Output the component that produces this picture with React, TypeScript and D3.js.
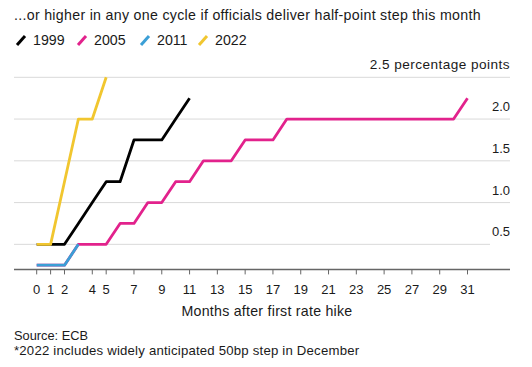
import React from 'react';
import * as d3 from 'd3';

const months = d3.range(0, 32);
const y1999 = [0.5, 0.5, 0.5, 0.75, 1.0, 1.25, 1.25, 1.75, 1.75, 1.75, 2.0, 2.25];
const y2005 = [0.25, 0.25, 0.25, 0.5, 0.5, 0.5, 0.75, 0.75, 1.0, 1.0, 1.25, 1.25, 1.5, 1.5, 1.5, 1.75,
  1.75, 1.75, 2.0, 2.0, 2.0, 2.0, 2.0, 2.0, 2.0, 2.0, 2.0, 2.0, 2.0, 2.0, 2.0, 2.25];
const y2011 = [0.25, 0.25, 0.25, 0.5];
const y2022 = [0.5, 0.5, 1.25, 2.0, 2.0, 2.5];

const series = [
  { name: '2005', values: y2005, color: '#e2228c' },
  { name: '1999', values: y1999, color: '#000000' },
  { name: '2011', values: y2011, color: '#3b9fd6' },
  { name: '2022', values: y2022, color: '#f1c62f' },
];
const legendOrder = ['1999', '2005', '2011', '2022'];
const xTicks = [0, 1, 2, 4, 5, 7, 9, 11, 13, 15, 17, 19, 21, 23, 25, 27, 29, 31];
const yTicks = [0.5, 1.0, 1.5, 2.0, 2.5];

const title = '...or higher in any one cycle if officials deliver half-point step this month';
const xTitle = 'Months after first rate hike';
const source = 'Source: ECB';
const note = '*2022 includes widely anticipated 50bp step in December';

export default function App() {
  const width = 532;
  const height = 367;
  const left = 14;
  const right = 510;
  const x = d3.scaleLinear().domain([0, 31]).range([36.7, 467.5]);
  const y = d3.scaleLinear().domain([0.2, 2.5]).range([269.4, 77.3]);
  const line = d3.line<number>().x((_, i) => x(months[i])).y(d => y(d));
  const font = '"Liberation Sans", Arial, sans-serif';
  const legendX = [16, 77, 140, 198];

  return (
    <svg width={width} height={height} style={{ position: 'absolute', left: 0, top: 0 }} fontFamily={font}>
      <rect width={width} height={height} fill="#fff" />
      <text x={left} y={20} fontSize={14.2} letterSpacing={0.3} fill="#1a1a1a">{title}</text>
      {legendOrder.map((n, i) => {
        const s = series.find(d => d.name === n)!;
        return (
          <g key={n} transform={`translate(${legendX[i]},0)`}>
            <line x1={1} y1={45} x2={9} y2={36} stroke={s.color} strokeWidth={3} />
            <text x={17} y={45} fontSize={14.2} fill="#1a1a1a">{n}</text>
          </g>
        );
      })}
      {yTicks.map(t => (
        <g key={t}>
          <line x1={left} x2={t === 0.5 ? 490 : right} y1={y(t)} y2={y(t)} stroke="#d9d9d9" strokeWidth={1} />
          <text x={right} y={y(t) - 8} textAnchor="end" fontSize={t === 2.5 ? 13.6 : 13}
            letterSpacing={t === 2.5 ? 0.45 : 0} fill="#1a1a1a">
            {t === 2.5 ? '2.5 percentage points' : t.toFixed(1)}
          </text>
        </g>
      ))}
      <line x1={left} x2={right} y1={y(0.2)} y2={y(0.2)} stroke="#666" strokeWidth={1.5} />
      {xTicks.map(t => (
        <g key={t}>
          <line x1={x(t)} x2={x(t)} y1={y(0.2)} y2={y(0.2) + 5} stroke="#666" strokeWidth={1} />
          <text x={x(t)} y={293.5} textAnchor="middle" fontSize={13} fill="#1a1a1a">{t}</text>
        </g>
      ))}
      {series.map(s => (
        <path key={s.name} d={line(s.values) || ''} fill="none" stroke={s.color} strokeWidth={2.8}
          strokeLinejoin="round" />
      ))}
      <text x={267} y={316} textAnchor="middle" fontSize={14.2} letterSpacing={0.25} fill="#1a1a1a">{xTitle}</text>
      <text x={left} y={340} fontSize={12.8} fill="#1a1a1a">{source}</text>
      <text x={left} y={355} fontSize={13.2} letterSpacing={0.2} fill="#1a1a1a">{note}</text>
    </svg>
  );
}
